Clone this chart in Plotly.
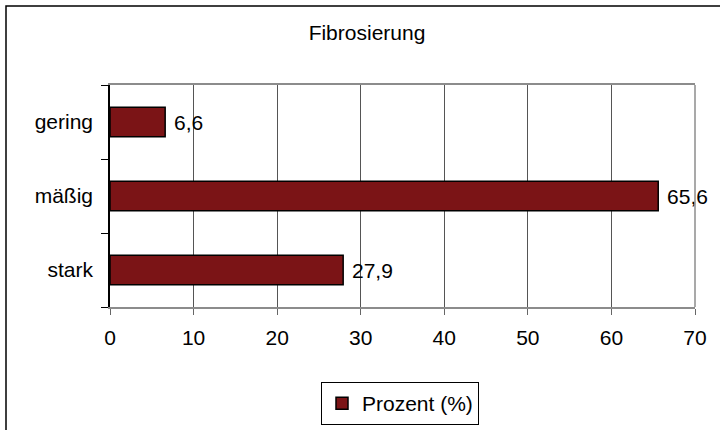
import plotly.graph_objects as go

# Fibrosierung – Verteilung in Prozent
categories = ["gering", "mäßig", "stark"]
values = [6.6, 65.6, 27.9]
series_name = "Prozent (%)"
x_ticks = [0, 10, 20, 30, 40, 50, 60, 70]

W, H = 720, 430
ML, MR, MT, MB = 110, 25, 85, 123
PW, PH = W - ML - MR, H - MT - MB


def px_x(p):
    return (p - ML) / PW


def px_y(p):
    return (H - MB - p) / PH


bar_color = "#7B1416"
font = dict(family="Liberation Sans, Arial, sans-serif", size=21, color="black")

fig = go.Figure(
    go.Bar(
        y=categories,
        x=values,
        orientation="h",
        name=series_name,
        width=0.4,
        marker=dict(color=bar_color, line=dict(color="black", width=1.5)),
        text=[" " + f"{v:.1f}".replace(".", ",") for v in values],
        textposition="outside",
        textfont=font,
        cliponaxis=False,
        showlegend=True,
    )
)

fig.update_layout(
    width=W,
    height=H,
    margin=dict(l=ML, r=MR, t=MT, b=MB, autoexpand=False),
    paper_bgcolor="white",
    plot_bgcolor="white",
    font=font,
    title=dict(
        text="Fibrosierung",
        x=367 / W,
        xanchor="center",
        y=1 - 33 / H,
        yanchor="middle",
        font=font,
    ),
    xaxis=dict(
        range=[0, 70],
        tickvals=x_ticks,
        showgrid=True,
        gridcolor="#555555",
        gridwidth=1,
        zeroline=False,
        showline=True,
        linecolor="#8c8c8c",
        linewidth=1.5,
        mirror=True,
        ticks="outside",
        ticklen=6,
        tickcolor="#666666",
        tickfont=font,
        ticklabelstandoff=5,
        fixedrange=True,
    ),
    yaxis=dict(
        categoryorder="array",
        categoryarray=categories[::-1],
        tickson="boundaries",
        ticks="outside",
        ticklen=7,
        tickcolor="black",
        showline=True,
        linecolor="black",
        linewidth=1.5,
        showgrid=False,
        tickfont=font,
        ticklabelstandoff=11,
        fixedrange=True,
    ),
    bargap=0.6,
    showlegend=True,
    legend=dict(
        orientation="h",
        x=px_x(400),
        xanchor="center",
        y=px_y(425),
        yanchor="bottom",
        bordercolor="black",
        borderwidth=1,
        bgcolor="white",
        font=font,
    ),
    shapes=[
        # right edge of the plot frame
        dict(type="line", xref="paper", yref="paper", x0=1, x1=1, y0=0, y1=1,
             line=dict(color="#8c8c8c", width=1.5)),
        # outer chart frame (left and top)
        dict(type="path", xref="paper", yref="paper",
             path=f"M {px_x(6)} {px_y(432)} L {px_x(6)} {px_y(6)} L {px_x(722)} {px_y(6)}",
             line=dict(color="black", width=1.5)),
    ],
)

fig.write_html("out.html")
